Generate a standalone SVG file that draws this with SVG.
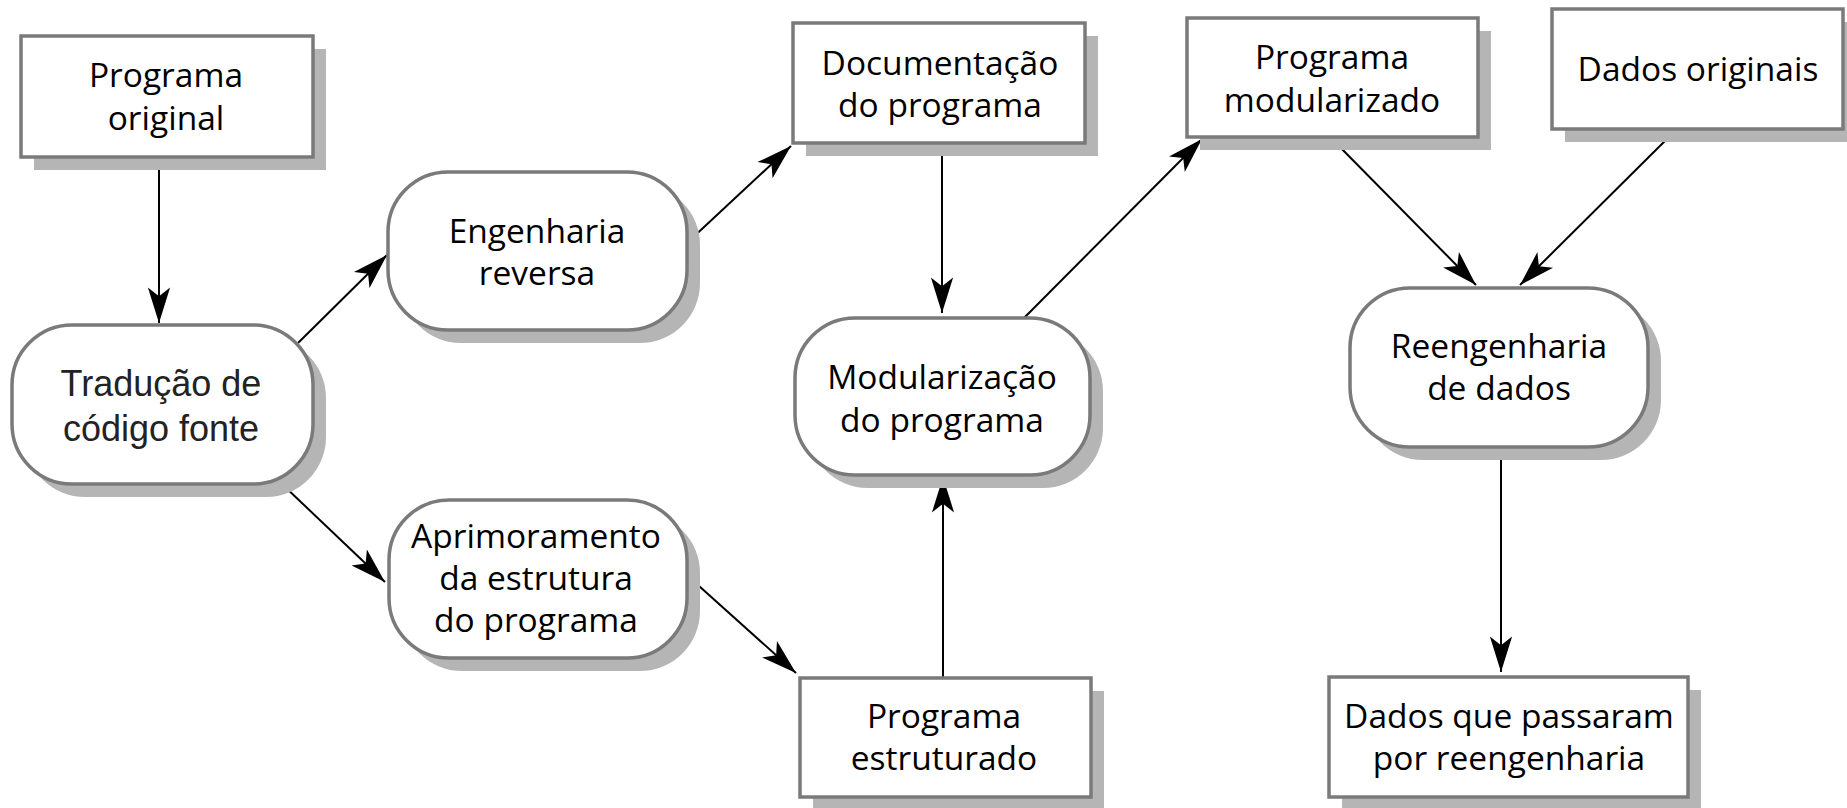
<svg xmlns="http://www.w3.org/2000/svg" width="1847" height="808" viewBox="0 0 1847 808">
<defs>
<marker id="ah" markerUnits="userSpaceOnUse" markerWidth="40" markerHeight="30" viewBox="-34 -12 36 24" refX="0" refY="0" orient="auto">
<path d="M0,0 L-32,-10 L-24,0 L-32,10 Z" fill="#000"/>
</marker>
</defs>
<style>
.sh{fill:#b5b5b5}
.bx{fill:#fff;stroke:#7a7a7a;stroke-width:3.5}
.t{font-family:"Open Sans","Noto Sans",sans-serif;font-size:33.5px;fill:#000;text-anchor:middle}
.ta{font-family:"Liberation Sans",Arial,sans-serif;font-size:36px;fill:#222;text-anchor:middle}
.c{stroke:#000;stroke-width:2;fill:none;marker-end:url(#ah)}
</style>
<rect width="1847" height="808" fill="#fff"/>
<g id="connectors">
<line class="c" x1="159" y1="158" x2="159" y2="323"/>
<line class="c" x1="298" y1="343" x2="387" y2="255"/>
<line class="c" x1="283" y1="485" x2="385" y2="582"/>
<line class="c" x1="688" y1="242" x2="791" y2="146"/>
<line class="c" x1="942" y1="143" x2="942" y2="313"/>
<line class="c" x1="689" y1="577" x2="796" y2="673"/>
<line class="c" x1="943" y1="678" x2="943" y2="477"/>
<line class="c" x1="1024" y1="318" x2="1202" y2="139"/>
<line class="c" x1="1333" y1="140" x2="1476" y2="285"/>
<line class="c" x1="1676" y1="130" x2="1520" y2="285"/>
<line class="c" x1="1501" y1="449" x2="1501" y2="672"/>
</g>
<g id="programa-original">
<rect class="sh" x="34" y="49" width="292" height="121"/>
<rect class="bx" x="21" y="36" width="292" height="121"/>
<text class="t" x="166" y="87">Programa</text>
<text class="t" x="166" y="130">original</text>
</g>
<g id="traducao">
<rect class="sh" x="25" y="338" width="301" height="159" rx="60"/>
<rect class="bx" x="12" y="325" width="301" height="159" rx="60"/>
<text class="ta" x="161" y="396">Tradução de</text>
<text class="ta" x="161" y="441">código fonte</text>
</g>
<g id="engenharia-reversa">
<rect class="sh" x="401" y="185" width="299" height="158" rx="60"/>
<rect class="bx" x="388" y="172" width="299" height="158" rx="60"/>
<text class="t" x="537" y="243">Engenharia</text>
<text class="t" x="537" y="285">reversa</text>
</g>
<g id="aprimoramento">
<rect class="sh" x="402" y="513" width="298" height="158" rx="60"/>
<rect class="bx" x="389" y="500" width="298" height="158" rx="60"/>
<text class="t" x="536" y="548">Aprimoramento</text>
<text class="t" x="536" y="590">da estrutura</text>
<text class="t" x="536" y="632">do programa</text>
</g>
<g id="documentacao">
<rect class="sh" x="806" y="36" width="292" height="120"/>
<rect class="bx" x="793" y="23" width="292" height="120"/>
<text class="t" x="940" y="75">Documentação</text>
<text class="t" x="940" y="117">do programa</text>
</g>
<g id="modularizacao">
<rect class="sh" x="808" y="331" width="295" height="157" rx="60"/>
<rect class="bx" x="795" y="318" width="295" height="157" rx="60"/>
<text class="t" x="942" y="389">Modularização</text>
<text class="t" x="942" y="432">do programa</text>
</g>
<g id="programa-estruturado">
<rect class="sh" x="813" y="691" width="291" height="119"/>
<rect class="bx" x="800" y="678" width="291" height="119"/>
<text class="t" x="944" y="728">Programa</text>
<text class="t" x="944" y="770">estruturado</text>
</g>
<g id="programa-modularizado">
<rect class="sh" x="1200" y="31" width="291" height="119"/>
<rect class="bx" x="1187" y="18" width="291" height="119"/>
<text class="t" x="1332" y="69">Programa</text>
<text class="t" x="1332" y="112">modularizado</text>
</g>
<g id="dados-originais">
<rect class="sh" x="1565" y="22" width="291" height="120"/>
<rect class="bx" x="1552" y="9" width="291" height="120"/>
<text class="t" x="1698" y="81">Dados originais</text>
</g>
<g id="reengenharia-dados">
<rect class="sh" x="1363" y="301" width="298" height="159" rx="60"/>
<rect class="bx" x="1350" y="288" width="298" height="159" rx="60"/>
<text class="t" x="1499" y="358">Reengenharia</text>
<text class="t" x="1499" y="400">de dados</text>
</g>
<g id="dados-reengenharia">
<rect class="sh" x="1342" y="690" width="359" height="120"/>
<rect class="bx" x="1329" y="677" width="359" height="120"/>
<text class="t" x="1509" y="728">Dados que passaram</text>
<text class="t" x="1509" y="770">por reengenharia</text>
</g>
</svg>
